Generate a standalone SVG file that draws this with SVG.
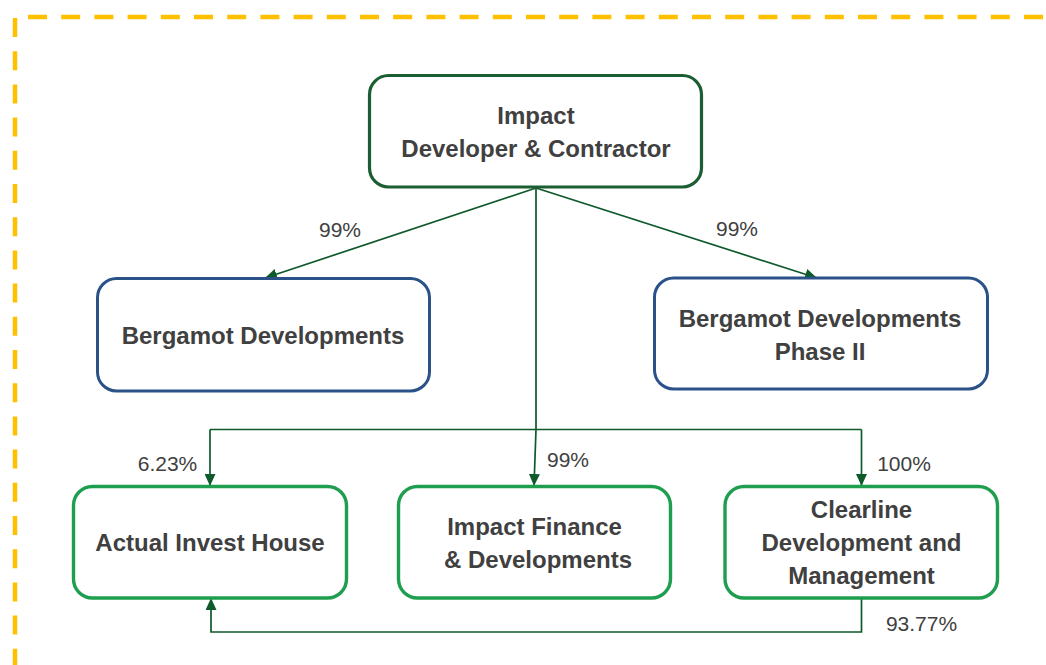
<svg xmlns="http://www.w3.org/2000/svg" width="1046" height="665" viewBox="0 0 1046 665">
  <defs>
    <style>
      .frame { stroke: #FFC000; stroke-width: 4.5; stroke-dasharray: 19 14.2; fill: none; }
      .box { fill: #FFFFFF; }
      .parent { stroke: #1B5E32; stroke-width: 3.2; }
      .blue { stroke: #2B5288; stroke-width: 3; }
      .green { stroke: #1E9E4E; stroke-width: 3.4; }
      .name { font-family: "Liberation Sans", Arial, sans-serif; font-weight: bold; font-size: 24px; fill: #404040; text-anchor: middle; }
      .pct { font-family: "Liberation Sans", Arial, sans-serif; font-size: 21px; fill: #404040; text-anchor: middle; }
      .link { stroke: #0E5A2B; stroke-width: 1.7; fill: none; }
      .arrow { marker-end: url(#head); }
    </style>
    <marker id="head" markerUnits="userSpaceOnUse" markerWidth="12" markerHeight="11" viewBox="0 0 12 11" refX="12" refY="5.5" orient="auto">
      <path d="M0,0 L12,5.5 L0,11 z" fill="#0E5A2B"/>
    </marker>
  </defs>

  <!-- dashed outline around the structure -->
  <line class="frame" x1="28" y1="17" x2="1046" y2="17"/>
  <line class="frame" x1="15" y1="18" x2="15" y2="665"/>

  <!-- ownership links -->
  <g id="connectors">
    <line class="link arrow" x1="536" y1="188" x2="265" y2="278"/>
    <line class="link arrow" x1="536" y1="188" x2="817" y2="278"/>
    <polyline class="link arrow" points="536,188 536,429.5 534,486"/>
    <line class="link" x1="210" y1="429.5" x2="861.5" y2="429.5"/>
    <line class="link arrow" x1="210" y1="429.5" x2="210" y2="486"/>
    <line class="link arrow" x1="861.5" y1="429.5" x2="861.5" y2="486"/>
    <polyline class="link arrow" points="861.5,598 861.5,632 211,632 211,598"/>
  </g>

  <!-- percentage labels -->
  <g id="labels">
    <text class="pct" x="340" y="236.5">99%</text>
    <text class="pct" x="737" y="235.5">99%</text>
    <text class="pct" x="167.5" y="471">6.23%</text>
    <text class="pct" x="568" y="467">99%</text>
    <text class="pct" x="904" y="471">100%</text>
    <text class="pct" x="921.5" y="631">93.77%</text>
  </g>

  <g id="impact-developer">
    <rect class="box parent" x="369.5" y="75.5" width="332" height="111.5" rx="19"/>
    <text class="name" x="536" y="123.5">Impact</text>
    <text class="name" x="536" y="157">Developer &amp; Contractor</text>
  </g>

  <g id="bergamot">
    <rect class="box blue" x="97.5" y="278.5" width="332" height="112.5" rx="19"/>
    <text class="name" x="263" y="343.5">Bergamot Developments</text>
  </g>

  <g id="bergamot-phase2">
    <rect class="box blue" x="654.5" y="278" width="333" height="111" rx="19"/>
    <text class="name" x="820" y="327">Bergamot Developments</text>
    <text class="name" x="820" y="359.5">Phase II</text>
  </g>

  <g id="actual-invest">
    <rect class="box green" x="73.5" y="486.5" width="273" height="111.5" rx="19"/>
    <text class="name" x="210" y="551">Actual Invest House</text>
  </g>

  <g id="impact-finance">
    <rect class="box green" x="398.5" y="486.5" width="272" height="111.5" rx="19"/>
    <text class="name" x="534.5" y="534.5">Impact Finance</text>
    <text class="name" x="538" y="567.5">&amp; Developments</text>
  </g>

  <g id="clearline">
    <rect class="box green" x="725" y="486.5" width="272.5" height="111.5" rx="19"/>
    <text class="name" x="861.5" y="517.5">Clearline</text>
    <text class="name" x="861.5" y="550.5">Development and</text>
    <text class="name" x="861.5" y="583.5">Management</text>
  </g>
</svg>
